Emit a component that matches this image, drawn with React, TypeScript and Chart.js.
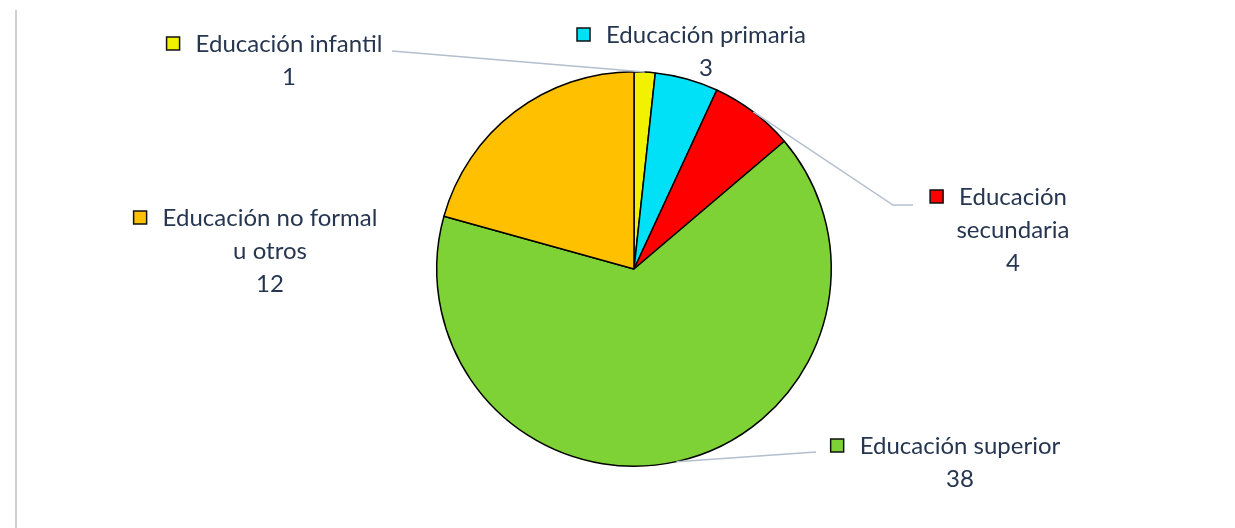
import React, { useEffect, useRef } from "react";
import { Chart, registerables } from "chart.js";

Chart.register(...registerables);

const categories = [
  "Educación infantil",
  "Educación primaria",
  "Educación secundaria",
  "Educación superior",
  "Educación no formal u otros",
];
const values = [1, 3, 4, 38, 12];
const colors = ["#f2f200", "#00e1f7", "#ff0000", "#7ed236", "#ffc000"];

// label text lines per category (name lines, then value)
const labelLines = [
  ["Educación infantil"],
  ["Educación primaria"],
  ["Educación", "secundaria"],
  ["Educación superior"],
  ["Educación no formal", "u otros"],
];

const FONT = "24px Lato, 'Open Sans', sans-serif";
const TEXT_COLOR = "#263650";
const LEADER_COLOR = "#b3bfcd";

const labelLayout = [
  { cx: 289, y: 44, leader: [[392, 51]] },
  { cx: 706, y: 35, leader: null },
  { cx: 1013, y: 197, leader: [[893, 205], [913, 205]] },
  { cx: 960, y: 446, leader: [[816, 452]] },
  { cx: 270, y: 218, leader: null },
];

const labelPlugin = {
  id: "pieLabels",
  afterDatasetsDraw(chart: any) {
    const ctx = chart.ctx;
    const meta = chart.getDatasetMeta(0);
    ctx.save();
    ctx.font = FONT;
    ctx.textBaseline = "middle";
    ctx.textAlign = "center";
    meta.data.forEach((arc: any, i: number) => {
      const L = labelLayout[i];
      if (L.leader) {
        const mid = (arc.startAngle + arc.endAngle) / 2;
        const px = arc.x + Math.cos(mid) * arc.outerRadius;
        const py = arc.y + Math.sin(mid) * arc.outerRadius;
        ctx.beginPath();
        ctx.strokeStyle = LEADER_COLOR;
        ctx.lineWidth = 1.5;
        ctx.moveTo(px, py);
        L.leader.forEach((p: number[]) => ctx.lineTo(p[0], p[1]));
        ctx.stroke();
      }
      const lines = [...labelLines[i], String(values[i])];
      const lh = 33;
      lines.forEach((t, k) => {
        const y = L.y + k * lh;
        ctx.fillStyle = TEXT_COLOR;
        ctx.fillText(t, L.cx, y);
        if (k === 0) {
          const w = ctx.measureText(t).width;
          const sx = L.cx - w / 2 - 23;
          ctx.fillStyle = colors[i];
          ctx.fillRect(sx - 6, y - 7, 13, 13);
          ctx.strokeStyle = "#111";
          ctx.lineWidth = 1.5;
          ctx.strokeRect(sx - 6, y - 7, 13, 13);
        }
      });
    });
    ctx.restore();
  },
};

export default function App() {
  const ref = useRef<HTMLCanvasElement>(null);
  useEffect(() => {
    const chart = new Chart(ref.current!, {
      type: "pie",
      data: {
        labels: categories,
        datasets: [
          {
            data: values,
            backgroundColor: colors,
            borderColor: "#000000",
            borderWidth: 1.5,
          },
        ],
      },
      options: {
        animation: false,
        responsive: false,
        events: [],
        layout: { padding: { top: 71, bottom: 61, left: 436, right: 403 } },
        plugins: { legend: { display: false }, tooltip: { enabled: false } },
      },
      plugins: [labelPlugin],
    });
    return () => chart.destroy();
  }, []);
  return (
    <div
      style={{
        position: "fixed",
        left: 0,
        top: 0,
        width: 1235,
        height: 528,
        background: "#fff",
      }}
    >
      <div
        style={{
          position: "absolute",
          left: 15,
          top: 10,
          width: 2,
          height: 518,
          background: "#cfcfcf",
        }}
      />
      <canvas
        ref={ref}
        width={1235}
        height={528}
        style={{ position: "absolute", left: 0, top: 0 }}
      />
    </div>
  );
}
